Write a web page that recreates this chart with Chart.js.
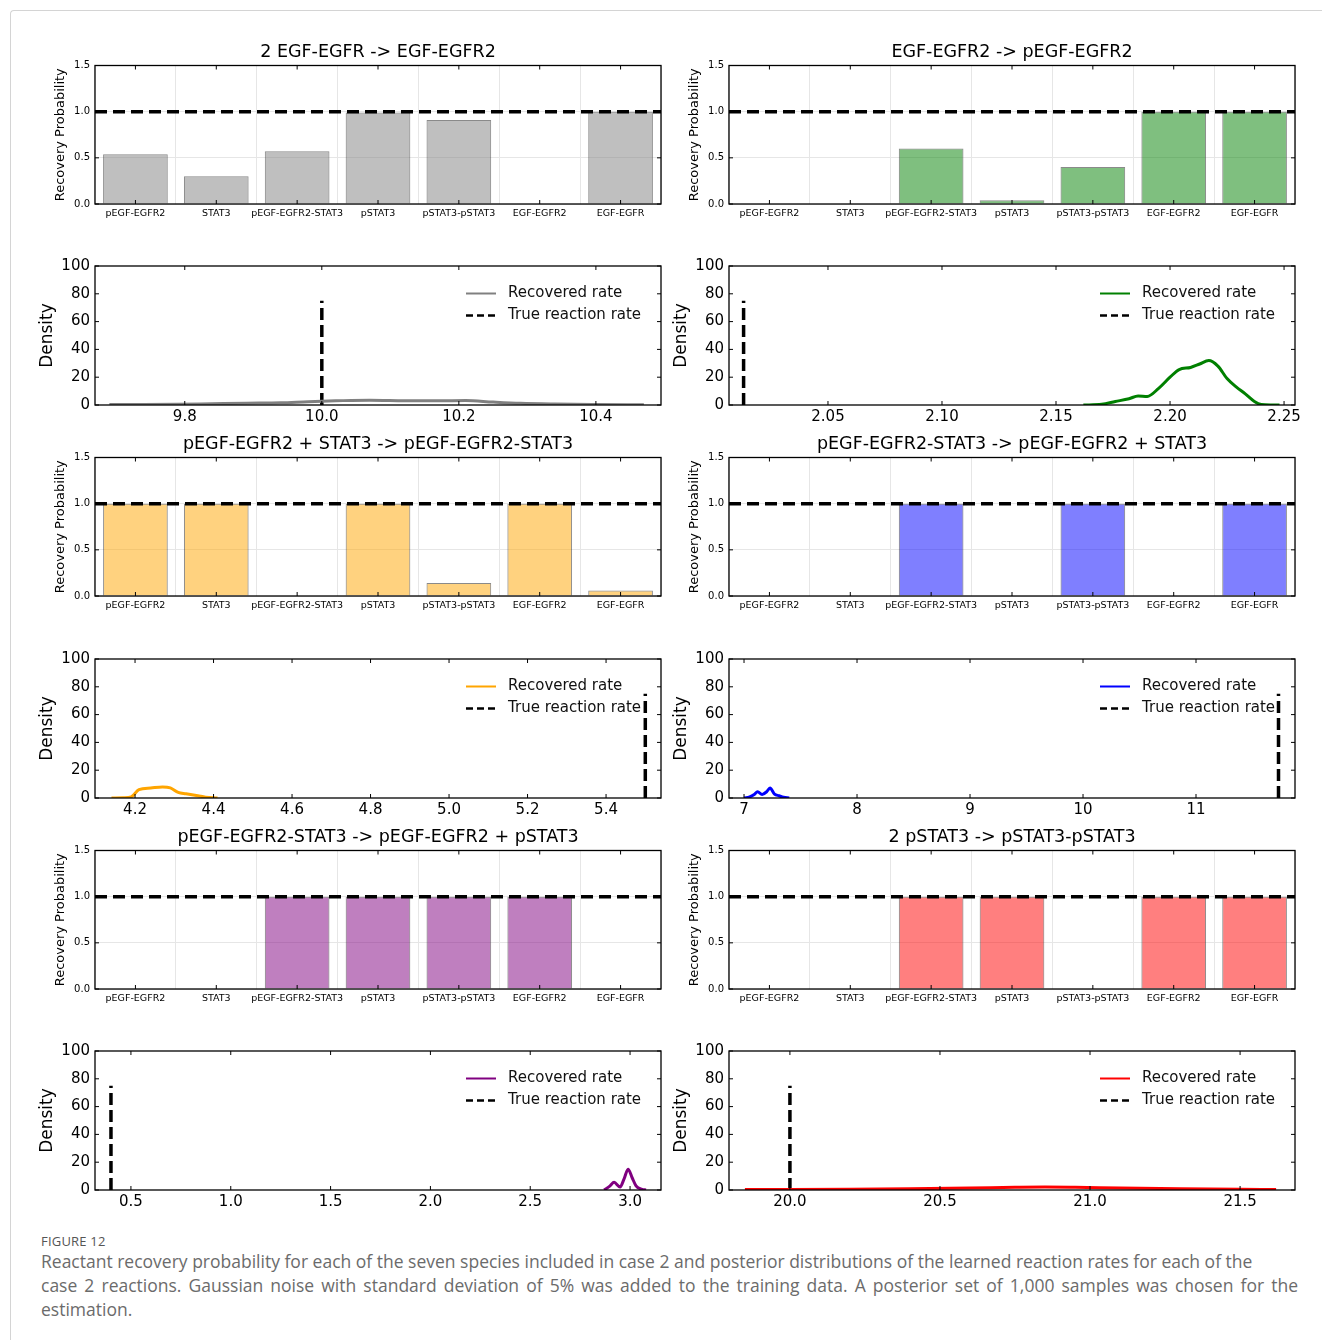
<!DOCTYPE html>
<html>
<head>
<meta charset="utf-8">
<script src="https://cdn.jsdelivr.net/npm/chart.js@4.4.1/dist/chart.umd.min.js"></script>
<style>
  body { margin: 0; background: #fff; }
  #page { position: relative; width: 1322px; height: 1340px; overflow: hidden; }
  #frame { position: absolute; left: 10px; top: 10px; width: 1330px; height: 1350px;
           border-left: 1px solid #d4d4d4; border-top: 1px solid #d4d4d4; border-top-left-radius: 4px; }
  canvas { position: absolute; }
  #caption { position: absolute; left: 41px; top: 1233px; width: 1257px; font-family: 'Open Sans', Lato, sans-serif; color: #6b6b6b; }
  #caption .fig { font-size: 13px; line-height: 16px; color: #555; letter-spacing: 0.2px; }
  #caption .l { font-size: 17.5px; line-height: 24px; white-space: nowrap; }
  #caption .j { text-align: justify; text-align-last: justify; white-space: normal; }
</style>
</head>
<body>
<div id="page">
  <div id="frame"></div>
  <div id="caption">
    <div class="fig">FIGURE 12</div>
    <div class="l">Reactant recovery probability for each of the seven species included in case 2 and posterior distributions of the learned reaction rates for each of the</div>
    <div class="l j">case 2 reactions. Gaussian noise with standard deviation of 5% was added to the training data. A posterior set of 1,000 samples was chosen for the</div>
    <div class="l">estimation.</div>
  </div>
</div>
<script>
'use strict';

// species and reactions
const species = ['pEGF-EGFR2', 'STAT3', 'pEGF-EGFR2-STAT3', 'pSTAT3', 'pSTAT3-pSTAT3', 'EGF-EGFR2', 'EGF-EGFR'];
const reactionTitles = [
  '2 EGF-EGFR -> EGF-EGFR2',
  'EGF-EGFR2 -> pEGF-EGFR2',
  'pEGF-EGFR2 + STAT3 -> pEGF-EGFR2-STAT3',
  'pEGF-EGFR2-STAT3 -> pEGF-EGFR2 + STAT3',
  'pEGF-EGFR2-STAT3 -> pEGF-EGFR2 + pSTAT3',
  '2 pSTAT3 -> pSTAT3-pSTAT3'
];

// recovery probability per species, one array per reaction
const recoveryR1 = [0.54, 0.30, 0.57, 0.99, 0.91, 0, 1.0];
const recoveryR2 = [0, 0.005, 0.60, 0.04, 0.40, 1.0, 1.0];
const recoveryR3 = [1.0, 1.0, 0, 1.0, 0.14, 1.0, 0.06];
const recoveryR4 = [0, 0, 1.0, 0, 1.0, 0, 1.0];
const recoveryR5 = [0, 0, 1.0, 1.0, 1.0, 1.0, 0];
const recoveryR6 = [0, 0, 1.0, 1.0, 0, 1.0, 1.0];
const perfectRecovery = 1.0;
const probTicks = [0, 0.5, 1.0, 1.5];

// posterior densities of the learned rates
const rateR1 = [9.69, 9.74, 9.79, 9.84, 9.89, 9.94, 9.98, 10.02, 10.07, 10.12, 10.17, 10.21, 10.25, 10.29, 10.34, 10.40, 10.47];
const densityR1 = [0.3, 0.3, 0.5, 0.9, 1.3, 1.6, 2.4, 3.0, 3.5, 3.1, 3.0, 3.2, 2.1, 1.2, 0.7, 0.4, 0.2];
const rateR2 = [2.162, 2.170, 2.176, 2.182, 2.186, 2.190, 2.195, 2.200, 2.204, 2.209, 2.213, 2.217, 2.221, 2.225, 2.229, 2.233, 2.237, 2.240, 2.244, 2.248];
const densityR2 = [0, 0.5, 2.5, 4.5, 6.5, 6.2, 12, 20, 25.5, 27, 29.5, 32, 28, 19, 13, 8, 2.5, 0.3, 0, 0];
const rateR3 = [4.14, 4.17, 4.19, 4.21, 4.24, 4.27, 4.29, 4.31, 4.33, 4.36, 4.38, 4.41];
const densityR3 = [0, 0.2, 0.8, 6, 7.2, 8, 7.3, 4, 3, 1.6, 0.6, 0];
const rateR4 = [7.00, 7.05, 7.09, 7.12, 7.16, 7.20, 7.23, 7.27, 7.31, 7.35, 7.40];
const densityR4 = [0, 0.8, 2.5, 4.5, 2.6, 4.5, 7.2, 2.8, 1.6, 0.5, 0];
const rateR5 = [2.87, 2.90, 2.92, 2.95, 2.97, 2.99, 3.01, 3.03, 3.06, 3.08];
const densityR5 = [0, 3, 5.5, 2.2, 8, 15, 9, 3, 0.5, 0];
const rateR6 = [19.85, 20.0, 20.2, 20.4, 20.6, 20.75, 20.85, 20.95, 21.1, 21.3, 21.5, 21.62];
const densityR6 = [0.3, 0.4, 0.6, 0.9, 1.4, 1.9, 2.1, 1.9, 1.4, 0.9, 0.5, 0.3];

const trueRates = [10.0, 2.013, 5.5, 11.73, 0.4, 20.0];
const trueLineTop = 75;

// x axis ticks and limits of the density plots
const rateTicksR1 = [9.8, 10.0, 10.2, 10.4];
const rateTicksR2 = [2.05, 2.10, 2.15, 2.20, 2.25];
const rateTicksR3 = [4.2, 4.4, 4.6, 4.8, 5.0, 5.2, 5.4];
const rateTicksR4 = [7, 8, 9, 10, 11];
const rateTicksR5 = [0.5, 1.0, 1.5, 2.0, 2.5, 3.0];
const rateTicksR6 = [20.0, 20.5, 21.0, 21.5];
const rateLimits = [[9.669, 10.495], [2.0066, 2.2548], [4.098, 5.540], [6.867, 11.876], [0.32, 3.155], [19.797, 21.683]];
const tickDecimals = [1, 2, 1, 0, 1, 1];
const densityTicks = [0, 20, 40, 60, 80, 100];

const lineColors = ['#808080', '#008000', '#ffa500', '#0000ff', '#800080', '#ff0000'];
const barColors = ['rgba(128,128,128,0.5)', 'rgba(0,128,0,0.5)', 'rgba(255,165,0,0.5)',
                   'rgba(0,0,255,0.5)', 'rgba(128,0,128,0.5)', 'rgba(255,0,0,0.5)'];

Chart.defaults.font.family = "'DejaVu Sans', sans-serif";
Chart.defaults.color = '#000';
Chart.defaults.animation = false;

const colLeft = [95, 729];
const barTop = [65, 457, 850];
const densTop = [266, 659, 1051];

function makeCanvas(left, top, width, height) {
  let c = document.createElement('canvas');
  c.width = width;
  c.height = height;
  c.style.left = left + 'px';
  c.style.top = top + 'px';
  c.style.width = width + 'px';
  c.style.height = height + 'px';
  document.getElementById('page').appendChild(c);
  return c;
}

// matplotlib-like box with inward ticks
const framePlugin = {
  id: 'frame',
  afterDatasetsDraw(chart) {
    const ctx = chart.ctx;
    const a = chart.chartArea;
    const sx = chart.scales.x, sy = chart.scales.y;
    ctx.save();
    ctx.strokeStyle = '#000';
    ctx.lineWidth = 1;
    ctx.beginPath();
    sx.ticks.forEach((t, i) => {
      const px = sx.getPixelForTick(i);
      ctx.moveTo(px, a.bottom); ctx.lineTo(px, a.bottom - 4);
      ctx.moveTo(px, a.top); ctx.lineTo(px, a.top + 4);
    });
    sy.ticks.forEach((t, i) => {
      const py = sy.getPixelForTick(i);
      ctx.moveTo(a.left, py); ctx.lineTo(a.left + 4, py);
      ctx.moveTo(a.right, py); ctx.lineTo(a.right - 4, py);
    });
    ctx.stroke();
    ctx.lineWidth = 1.3;
    ctx.strokeRect(a.left, a.top, a.right - a.left, a.bottom - a.top);
    ctx.restore();
  }
};

// legend in the upper right corner of the plot
const cornerLegend = {
  id: 'cornerLegend',
  afterDraw(chart) {
    const ctx = chart.ctx;
    const a = chart.chartArea;
    ctx.save();
    ctx.font = "15px 'DejaVu Sans'";
    ctx.textBaseline = 'middle';
    chart.data.datasets.forEach((ds, i) => {
      const y = a.top + 27.5 + i * 22;
      ctx.strokeStyle = ds.borderColor;
      ctx.lineWidth = i === 0 ? 2 : 2.5;
      ctx.setLineDash(ds.borderDash ? [7, 4] : []);
      ctx.beginPath();
      ctx.moveTo(a.right - 195, y);
      ctx.lineTo(a.right - 165, y);
      ctx.stroke();
      ctx.fillStyle = '#111';
      ctx.fillText(ds.label, a.right - 153, y);
    });
    ctx.restore();
  }
};

function barChart(idx, values, row, col) {
  const canvas = makeCanvas(colLeft[col] - 55, barTop[row] - 21, 627, 182);
  const last = species.length - 1;
  new Chart(canvas, {
    type: 'bar',
    data: {
      datasets: [
        {
          type: 'line',
          data: [{x: -0.5, y: perfectRecovery}, {x: last + 0.5, y: perfectRecovery}],
          borderColor: '#000',
          borderWidth: 3.5,
          borderDash: [12, 6],
          pointRadius: 0,
          order: 0
        },
        {
          type: 'bar',
          data: values.map((v, i) => ({x: i, y: v})),
          backgroundColor: barColors[idx],
          borderColor: 'rgba(60,60,60,0.6)',
          borderWidth: 1,
          grouped: false,
          barPercentage: 0.8,
          categoryPercentage: 1.0,
          order: 1
        }
      ]
    },
    options: {
      responsive: false,
      layout: {padding: {left: 0, right: 6, top: 0, bottom: 0}},
      scales: {
        x: {
          type: 'linear',
          offset: false,
          min: -0.5,
          max: last + 0.5,
          afterBuildTicks: s => { s.ticks = species.map((n, i) => ({value: i})); },
          grid: {color: '#e6e6e6', drawTicks: false},
          border: {display: false},
          ticks: {font: {size: 9.5}, padding: 4, maxRotation: 0, minRotation: 0, autoSkip: false,
                  callback: v => species[v]},
          afterFit: s => { s.height = 22; }
        },
        y: {
          min: 0,
          max: 1.5,
          afterBuildTicks: s => { s.ticks = probTicks.map(v => ({value: v})); },
          ticks: {font: {size: 10}, padding: 5, callback: v => v.toFixed(1)},
          grid: {color: '#e6e6e6', drawTicks: false},
          border: {display: false},
          title: {display: true, text: 'Recovery Probability', font: {size: 13, lineHeight: 1}, padding: {top: 14.5, bottom: 0}},
          afterFit: s => { s.width = 55; }
        }
      },
      plugins: {
        legend: {display: false},
        tooltip: {enabled: false},
        title: {
          display: true,
          text: reactionTitles[idx],
          fullSize: false,
          color: '#000',
          font: {size: 17.5, weight: 'normal', lineHeight: 1},
          padding: {top: 0, bottom: 4}
        }
      }
    },
    plugins: [framePlugin]
  });
}

function densityChart(idx, rates, dens, ticks, row, col) {
  const canvas = makeCanvas(colLeft[col] - 58, densTop[row] - 14, 638, 179);
  const limits = rateLimits[idx];
  new Chart(canvas, {
    type: 'line',
    data: {
      datasets: [
        {
          label: 'Recovered rate',
          data: rates.map((r, i) => ({x: r, y: dens[i]})),
          borderColor: lineColors[idx],
          borderWidth: 3,
          pointRadius: 0,
          cubicInterpolationMode: 'monotone'
        },
        {
          label: 'True reaction rate',
          data: [{x: trueRates[idx], y: 0}, {x: trueRates[idx], y: trueLineTop}],
          borderColor: '#000',
          borderWidth: 3.5,
          borderDash: [12, 5],
          pointRadius: 0,
          tension: 0
        }
      ]
    },
    options: {
      responsive: false,
      layout: {padding: {left: 0, right: 14, top: 14, bottom: 0}},
      scales: {
        x: {
          type: 'linear',
          min: limits[0],
          max: limits[1],
          afterBuildTicks: s => { s.ticks = ticks.map(v => ({value: v})); },
          ticks: {font: {size: 15}, padding: 3, callback: v => v.toFixed(tickDecimals[idx])},
          grid: {display: false, drawTicks: false},
          border: {display: false},
          afterFit: s => { s.height = 26; }
        },
        y: {
          min: 0,
          max: 100,
          afterBuildTicks: s => { s.ticks = densityTicks.map(v => ({value: v})); },
          ticks: {font: {size: 15}, padding: 5},
          grid: {display: false, drawTicks: false},
          border: {display: false},
          title: {display: true, text: 'Density', font: {size: 17, lineHeight: 1}, padding: {top: 2.5, bottom: 0}},
          afterFit: s => { s.width = 58; }
        }
      },
      plugins: {
        legend: {display: false},
        tooltip: {enabled: false}
      }
    },
    plugins: [framePlugin, cornerLegend]
  });
}

barChart(0, recoveryR1, 0, 0);
barChart(1, recoveryR2, 0, 1);
barChart(2, recoveryR3, 1, 0);
barChart(3, recoveryR4, 1, 1);
barChart(4, recoveryR5, 2, 0);
barChart(5, recoveryR6, 2, 1);

densityChart(0, rateR1, densityR1, rateTicksR1, 0, 0);
densityChart(1, rateR2, densityR2, rateTicksR2, 0, 1);
densityChart(2, rateR3, densityR3, rateTicksR3, 1, 0);
densityChart(3, rateR4, densityR4, rateTicksR4, 1, 1);
densityChart(4, rateR5, densityR5, rateTicksR5, 2, 0);
densityChart(5, rateR6, densityR6, rateTicksR6, 2, 1);
</script>
</body>
</html>
